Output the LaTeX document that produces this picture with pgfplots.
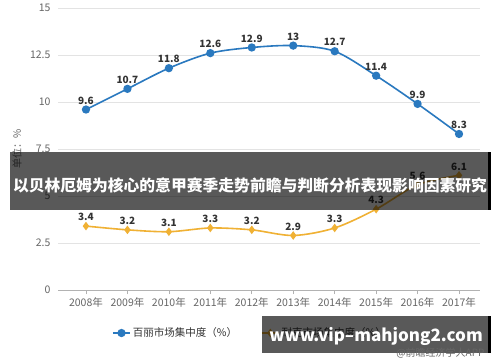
\documentclass[border=0pt]{standalone}
\usepackage{fontspec}
\setmainfont{Noto Sans CJK SC}
\usepackage{pgfplots}
\pgfplotsset{compat=1.18}
\definecolor{bl}{HTML}{2A79BF}
\definecolor{og}{HTML}{F0B134}
\definecolor{tk}{HTML}{666666}
\definecolor{lb}{HTML}{333333}
\pgfplotsset{/pgf/number format/assume math mode=true}
\begin{document}
\begin{tikzpicture}
\path[use as bounding box, fill=white] (0pt,0pt) rectangle (500pt,-362pt);
\begin{axis}[
  at={(58pt,-290pt)}, anchor=south west,
  scale only axis, width=422pt, height=282pt,
  xmin=-0.675, xmax=9.506, ymin=0, ymax=15,
  axis line style={draw=none},
  ymajorgrids, grid style={draw=gray!22, line width=0.8pt},
  ytick={0,2.5,5,7.5,10,12.5,15},
  yticklabels={0,2.5,5,7.5,10,12.5,15},
  ytick style={draw=none},
  xtick={0,1,2,3,4,5,6,7,8,9},
  xticklabels={2008年,2009年,2010年,2011年,2012年,2013年,2014年,2015年,2016年,2017年},
  xtick pos=left, tick align=outside, major tick length=4pt,
  xtick style={draw=gray!60, line width=0.6pt},
  ticklabel style={color=tk, font=\fontsize{10.5}{12}\selectfont},
  ylabel={单位：\%},
  ylabel style={at={(axis description cs:-0.097,0.5)}, anchor=center, color=tk, font=\fontsize{10}{12}\selectfont},
  nodes near coords,
  every node near coord/.append style={font=\bfseries\fontsize{10}{12}\selectfont, color=lb, anchor=south, yshift=1pt},
  legend columns=2,
  legend style={at={(0.455,0)}, anchor=center, yshift=-43pt, draw=none, fill=none,
    font=\fontsize{10.5}{12}\selectfont, text=lb,
    /tikz/every even column/.append style={column sep=22pt}},
  legend cell align=left,
]
\addplot[bl, line width=1.6pt, smooth, tension=0.5, mark=*, mark size=3.3pt, mark options={fill=bl, draw=bl}]
  coordinates {(0,9.6) (1,10.7) (2,11.8) (3,12.6) (4,12.9) (5,13) (6,12.7) (7,11.4) (8,9.9) (9,8.3)};
\addlegendentry{百丽市场集中度（\%）}
\addplot[og, line width=1.6pt, smooth, tension=0.5, mark=diamond*, mark size=3pt, mark options={fill=og, draw=og}]
  coordinates {(0,3.4) (1,3.2) (2,3.1) (3,3.3) (4,3.2) (5,2.9) (6,3.3) (7,4.3) (8,5.6) (9,6.1)};
\addlegendentry{耐克市场集中度（\%）}
\draw[gray!60, line width=0.8pt] (rel axis cs:0,0) -- (rel axis cs:1,0);
\end{axis}
\fill[black, opacity=0.65] (10pt,-152pt) rectangle (488pt,-210pt);
\fill[black] (488pt,-152pt) rectangle (490.5pt,-210pt);
\node[white, font=\bfseries\fontsize{15.8}{18}\selectfont] at (250pt,-185pt) {以贝林厄姆为核心的意甲赛季走势前瞻与判断分析表现影响因素研究};
\fill[black, opacity=0.65] (262pt,-316pt) rectangle (488pt,-353pt);
\fill[black] (488pt,-316pt) rectangle (490.5pt,-353pt);
\node[white, font=\bfseries\fontsize{17}{20}\selectfont] at (376pt,-336pt) {www.vip--mahjong2.com};
\node[color=tk, font=\fontsize{10}{12}\selectfont, anchor=east] at (488pt,-353pt) {@前瞻经济学人APP};
\end{tikzpicture}
\end{document}
